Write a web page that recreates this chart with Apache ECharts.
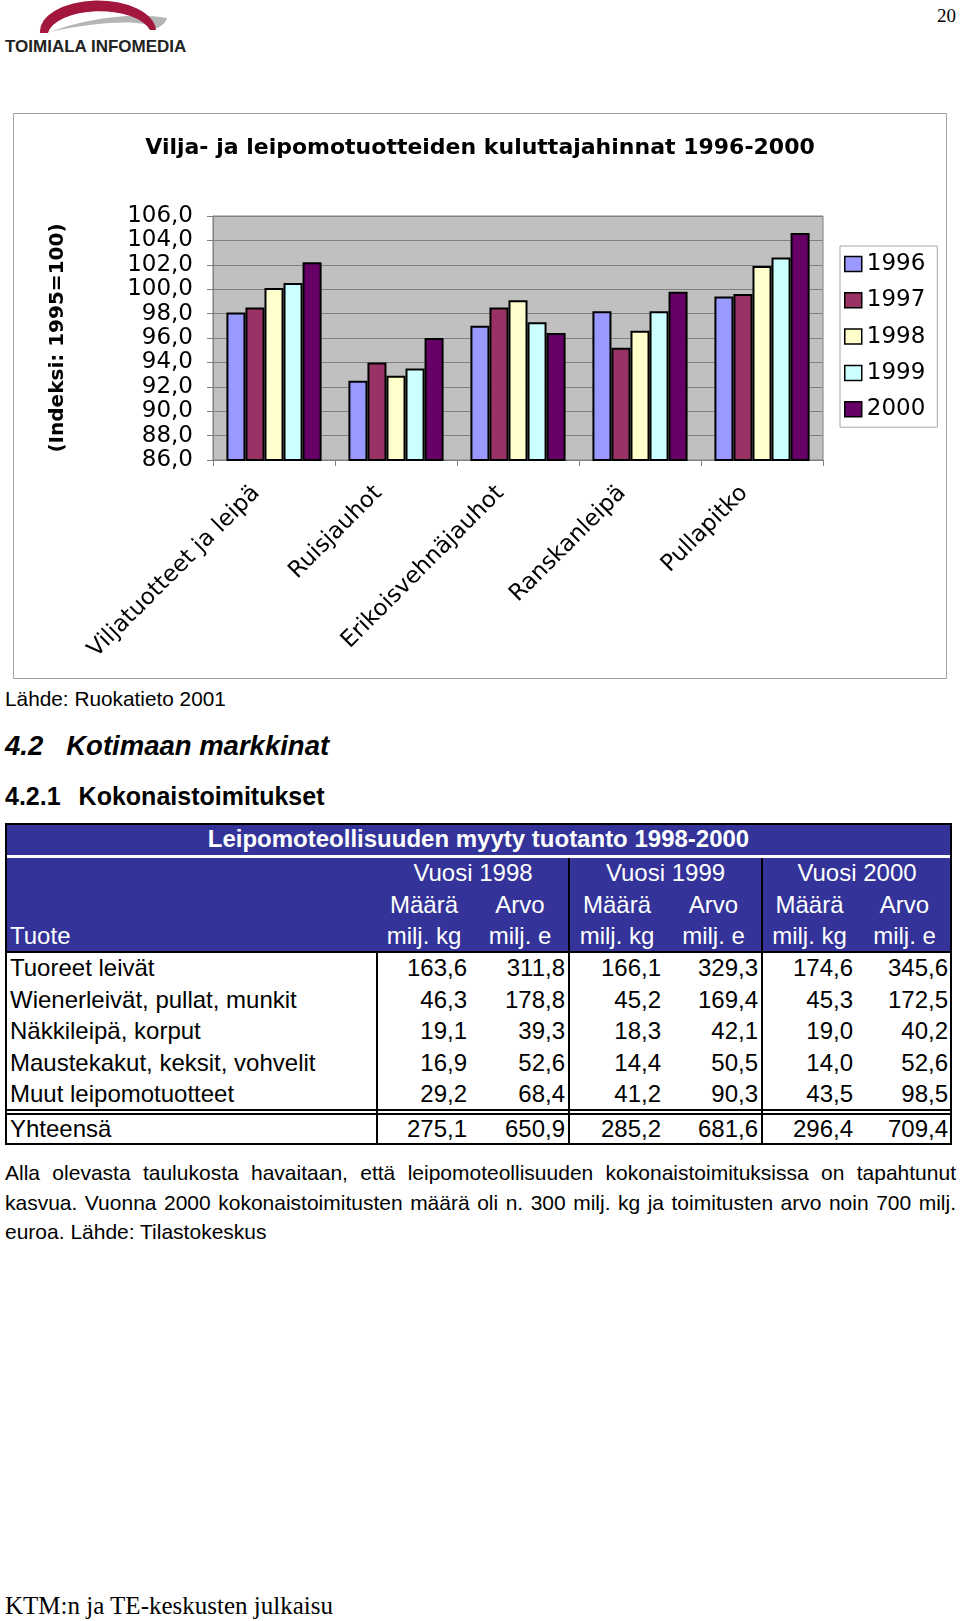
<!DOCTYPE html>
<html><head><meta charset="utf-8">
<script src="https://cdn.jsdelivr.net/npm/echarts@6/dist/echarts.min.js"></script>
<style>
html,body{margin:0;padding:0;background:#fff;}
body{width:960px;height:1621px;position:relative;overflow:hidden;font-family:"Liberation Sans",Arial,sans-serif;color:#000;}
.abs{position:absolute;white-space:nowrap;}
#chart{position:absolute;left:13px;top:113px;width:934px;height:566px;}
.para{position:absolute;left:5px;width:951px;font-size:21px;line-height:29.5px;text-align:justify;}
</style>
</head><body>
<svg class="abs" style="left:0;top:0" width="200" height="40" viewBox="0 0 200 40">
  <path d="M50 32 C 85 19, 130 12, 167 18 C 166 23, 160 27, 155 29 C 150 21, 110 19, 50 32 Z" fill="#b5b5b5"/>
  <path d="M40 33 A 58 31 0 0 1 156 30 L 150 30 A 52 25 0 0 0 48 33 Z" fill="#a3173f"/>
</svg>
<div class="abs" style="left:5px;top:38px;font-size:17px;line-height:17px;font-weight:bold;color:#222;">TOIMIALA INFOMEDIA</div>
<div class="abs" style="left:900px;width:56px;text-align:right;top:6px;font-size:19px;line-height:19px;font-family:'Liberation Serif',serif;">20</div>
<div id="chart"></div>
<div class="abs" style="left:5px;top:689px;font-size:20.8px;line-height:20.8px;">Lähde: Ruokatieto 2001</div>
<div class="abs" style="left:5px;top:732px;font-size:27.5px;line-height:27.5px;font-weight:bold;font-style:italic;">4.2<span style="display:inline-block;width:23px"></span>Kotimaan markkinat</div>
<div class="abs" style="left:5px;top:784px;font-size:25px;line-height:25px;font-weight:bold;">4.2.1<span style="display:inline-block;width:18px"></span>Kokonaistoimitukset</div>
<div id="tbl"></div>
<div class="para" style="top:1158px;text-align-last:justify;">Alla olevasta taulukosta havaitaan, että leipomoteollisuuden kokonaistoimituksissa on tapahtunut</div>
<div class="para" style="top:1187.5px;text-align-last:justify;">kasvua. Vuonna 2000 kokonaistoimitusten määrä oli n. 300 milj. kg ja toimitusten arvo noin 700 milj.</div>
<div class="para" style="top:1217px;text-align:left;">euroa. Lähde: Tilastokeskus</div>
<div class="abs" style="left:5px;top:1593px;font-size:25px;line-height:25px;font-family:'Liberation Serif','Times New Roman',serif;">KTM:n ja TE-keskusten julkaisu</div>
<script>
// ---- chart data ----
const categories = ['Viljatuotteet ja leipä', 'Ruisjauhot', 'Erikoisvehnäjauhot', 'Ranskanleipä', 'Pullapitko'];
const years = ['1996', '1997', '1998', '1999', '2000'];
const v1996 = [98.1, 92.5, 97.0, 98.2, 99.4];
const v1997 = [98.5, 94.0, 98.5, 95.2, 99.6];
const v1998 = [100.1, 92.9, 99.1, 96.6, 101.9];
const v1999 = [100.5, 93.5, 97.3, 98.2, 102.6];
const v2000 = [102.2, 96.0, 96.4, 99.8, 104.6];
const yTickLabels = ['86,0', '88,0', '90,0', '92,0', '94,0', '96,0', '98,0', '100,0', '102,0', '104,0', '106,0'];
const chartTitle = 'Vilja- ja leipomotuotteiden kuluttajahinnat 1996-2000';
const yAxisTitle = '(Indeksi: 1995=100)';

// ---- table data ----
const tableTitle = 'Leipomoteollisuuden myyty tuotanto 1998-2000';
const tableYears = ['Vuosi 1998', 'Vuosi 1999', 'Vuosi 2000'];
const tableRows = ['Tuoreet leivät', 'Wienerleivät, pullat, munkit', 'Näkkileipä, korput', 'Maustekakut, keksit, vohvelit', 'Muut leipomotuotteet'];
const maara1998 = ['163,6', '46,3', '19,1', '16,9', '29,2'];
const arvo1998 = ['311,8', '178,8', '39,3', '52,6', '68,4'];
const maara1999 = ['166,1', '45,2', '18,3', '14,4', '41,2'];
const arvo1999 = ['329,3', '169,4', '42,1', '50,5', '90,3'];
const maara2000 = ['174,6', '45,3', '19,0', '14,0', '43,5'];
const arvo2000 = ['345,6', '172,5', '40,2', '52,6', '98,5'];
const totalLabel = 'Yhteensä';
const totals = ['275,1', '650,9', '285,2', '681,6', '296,4', '709,4'];

const colors = ['#9999ff', '#993366', '#ffffcc', '#ccffff', '#660066'];
const seriesVals = [v1996, v1997, v1998, v1999, v2000];
const FONT = 'DejaVu Sans';

const chart = echarts.init(document.getElementById('chart'), null, {renderer: 'canvas'});
chart.setOption({
  animation: false,
  title: {
    text: chartTitle, left: 'center', top: 19,
    textStyle: {fontFamily: FONT, fontWeight: 'bold', fontSize: 22, color: '#000'}
  },
  graphic: [{
    type: 'rect', silent: true, z: -1,
    shape: {x: 0.5, y: 0.5, width: 933, height: 565},
    style: {fill: 'none', stroke: '#a0a0a0', lineWidth: 1}
  }],
  legend: {
    orient: 'vertical', left: 827, top: 133,
    padding: [5, 12, 5, 4], itemGap: 10.3, itemWidth: 17, itemHeight: 15,
    icon: 'rect', borderColor: '#a6a6a6', borderWidth: 1,
    textStyle: {fontFamily: FONT, fontSize: 23, color: '#000', lineHeight: 26},
    itemStyle: {borderColor: '#000', borderWidth: 1.5},
    data: years
  },
  grid: {
    left: 200, top: 103, width: 610, height: 244,
    show: true, backgroundColor: '#c0c0c0', borderColor: '#808080', borderWidth: 1,
    containLabel: false, outerBoundsMode: 'none'
  },
  xAxis: {
    type: 'category', data: categories, boundaryGap: true,
    axisLine: {show: true, lineStyle: {color: '#808080', width: 1}},
    axisTick: {show: true, length: 6, lineStyle: {color: '#808080'}},
    axisLabel: {rotate: 45, interval: 0, margin: 12, padding: [0, 25, 0, 0],
      fontFamily: FONT, fontSize: 23, color: '#000', hideOverlap: false},
    splitLine: {show: false}
  },
  yAxis: {
    type: 'value', min: 86, max: 106, interval: 2,
    name: yAxisTitle, nameLocation: 'middle', nameGap: 145, nameRotate: 90,
    nameTextStyle: {fontFamily: FONT, fontWeight: 'bold', fontSize: 20, color: '#000'},
    axisLine: {show: true, lineStyle: {color: '#808080'}},
    axisTick: {show: true, length: 6, lineStyle: {color: '#808080'}},
    axisLabel: {margin: 20, fontFamily: FONT, fontSize: 23, color: '#000',
      formatter: v => yTickLabels[Math.round((v - 86) / 2)]},
    splitLine: {show: true, lineStyle: {color: '#808080', width: 1}}
  },
  series: years.map((y, i) => ({
    name: y, type: 'bar', data: seriesVals[i],
    barGap: '0%', barCategoryGap: '22%',
    itemStyle: {color: colors[i], borderColor: '#000', borderWidth: 2}
  }))
});

// ---- table (HTML) ----
const T = document.getElementById('tbl');
function box(x, y, w, h, bg) {
  const d = document.createElement('div');
  d.style.cssText = `position:absolute;left:${x}px;top:${y}px;width:${w}px;height:${h}px;background:${bg};`;
  T.appendChild(d);
}
function txt(s, x, cy, f, align, extra) {
  const d = document.createElement('div');
  d.className = 'abs';
  d.textContent = s;
  const W = 600;
  let css = `font-size:${f}px;line-height:${f}px;top:${cy - f / 2}px;`;
  if (align === 'left') css += `left:${x}px;`;
  else if (align === 'right') css += `left:${x - W}px;width:${W}px;text-align:right;`;
  else css += `left:${x - W / 2}px;width:${W}px;text-align:center;`;
  d.style.cssText = css + (extra || '');
  T.appendChild(d);
}
const L = 5, R = 952, TOP = 823, HB = 952, BOT = 1145;
const colEdges = [377, 471, 569, 665, 762, 857, 952];
box(L, TOP, R - L, HB - TOP, '#333399');
box(L, 855, R - L, 3, '#ffffff');
[569, 762].forEach(x => box(x - 1, 858, 2, HB - 858, '#000'));
[377, 569, 762].forEach(x => box(x - 1, HB, 2, BOT - HB, '#000'));
box(L, HB - 1, R - L, 2, '#000');
box(L, 1109, R - L, 1.5, '#000');
box(L, 1113, R - L, 1.5, '#000');
const ob = document.createElement('div');
ob.style.cssText = `position:absolute;left:${L}px;top:${TOP}px;width:${R - L}px;height:${BOT - TOP}px;border:2px solid #000;box-sizing:border-box;`;
T.appendChild(ob);

const F = 24;
txt(tableTitle, (L + R) / 2, 839, F, 'center', 'color:#fff;font-weight:bold;');
tableYears.forEach((s, i) => txt(s, (colEdges[2 * i] + colEdges[2 * i + 2]) / 2, 873, F, 'center', 'color:#fff;'));
for (let i = 0; i < 3; i++) {
  const a = colEdges[2 * i], b = colEdges[2 * i + 1], c = colEdges[2 * i + 2];
  txt('Määrä', (a + b) / 2, 905, F, 'center', 'color:#fff;');
  txt('Arvo', (b + c) / 2, 905, F, 'center', 'color:#fff;');
  txt('milj. kg', (a + b) / 2, 936, F, 'center', 'color:#fff;');
  txt('milj. e', (b + c) / 2, 936, F, 'center', 'color:#fff;');
}
txt('Tuote', 10, 936, F, 'left', 'color:#fff;');
const rowCy = [968, 999.5, 1031, 1062.5, 1094];
const cols = [maara1998, arvo1998, maara1999, arvo1999, maara2000, arvo2000];
tableRows.forEach((name, r) => {
  txt(name, 10, rowCy[r], F, 'left');
  cols.forEach((col, c) => txt(col[r], colEdges[c + 1] - 4, rowCy[r], F, 'right'));
});
txt(totalLabel, 10, 1128.5, F, 'left');
totals.forEach((v, c) => txt(v, colEdges[c + 1] - 4, 1128.5, F, 'right'));
</script>
</body></html>
